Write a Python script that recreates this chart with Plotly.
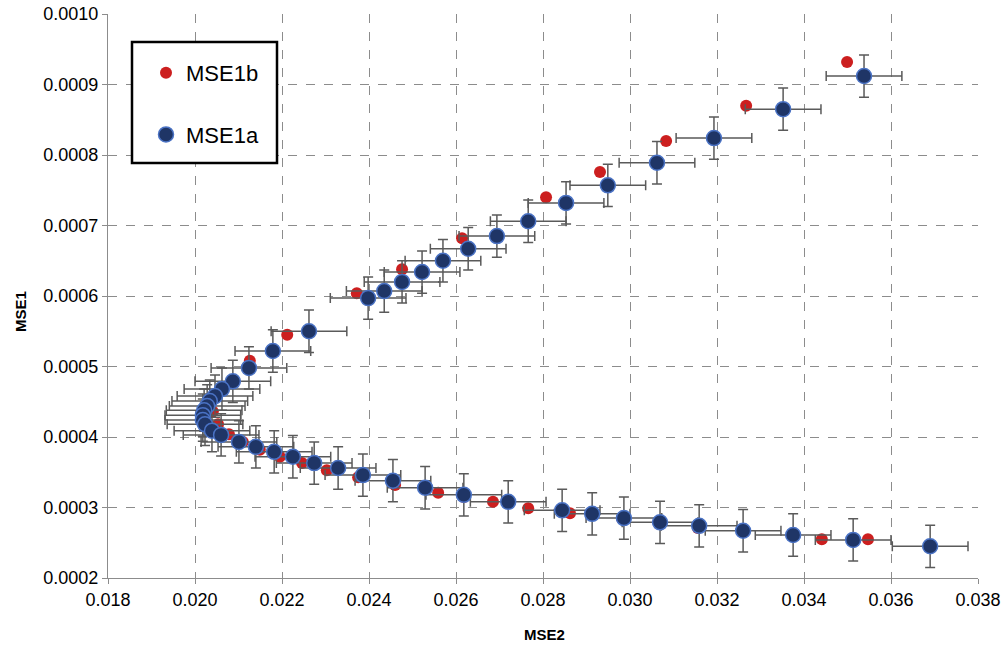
import plotly.graph_objects as go

# ---- data ----
mse1a_x = [0.03538, 0.03352, 0.03193, 0.03062, 0.02949, 0.02853, 0.02766, 0.02694,
           0.02628, 0.02570, 0.02522, 0.02476, 0.02435, 0.02398, 0.02262, 0.02179,
           0.02124, 0.02087, 0.02062, 0.02046, 0.02034, 0.02028, 0.02021, 0.02018,
           0.02018, 0.02023, 0.02039, 0.02060, 0.02101, 0.02140, 0.02182, 0.02225,
           0.02274, 0.02329, 0.02386, 0.02455, 0.02529, 0.02618, 0.02720, 0.02844,
           0.02913, 0.02986, 0.03069, 0.03159, 0.03260, 0.03375, 0.03513, 0.03690]
mse1a_y = [0.000912, 0.000865, 0.000824, 0.000789, 0.000757, 0.000732, 0.000706, 0.000685,
           0.000667, 0.000650, 0.000634, 0.000620, 0.000607, 0.000597, 0.000550, 0.000522,
           0.000498, 0.000479, 0.000468, 0.000458, 0.000451, 0.000444, 0.000438, 0.000431,
           0.000424, 0.000418, 0.000409, 0.000403, 0.000393, 0.000386, 0.000379, 0.000372,
           0.000363, 0.000356, 0.000346, 0.000338, 0.000328, 0.000318, 0.000308, 0.000296,
           0.000291, 0.000285, 0.000279, 0.000274, 0.000267, 0.000261, 0.000254, 0.000245]
mse1a_xerr = 0.00087
mse1a_yerr = 0.00003

mse1b_x = [0.03499, 0.03267, 0.03083, 0.02931, 0.02807, 0.02614, 0.02476, 0.02372,
           0.02212, 0.02126, 0.02041, 0.02053, 0.02078, 0.02110, 0.02149, 0.02195,
           0.02246, 0.02303, 0.02375, 0.02460, 0.02559, 0.02618, 0.02685, 0.02766,
           0.02862, 0.02982, 0.03156, 0.03441, 0.03547]
mse1b_y = [0.000932, 0.000870, 0.000820, 0.000776, 0.000740, 0.000682, 0.000638, 0.000604,
           0.000545, 0.000508, 0.000436, 0.000418, 0.000404, 0.000393, 0.000382, 0.000372,
           0.000363, 0.000353, 0.000343, 0.000332, 0.000321, 0.000315, 0.000308, 0.000299,
           0.000292, 0.000284, 0.000271, 0.000255, 0.000255]

x_range = [0.018, 0.038]
y_range = [0.0002, 0.0010]

FONT = "Liberation Sans"
GRID = "#8c8c8c"

W, H = 1003, 646
ML, MR, MT, MB = 108, 25, 14, 68
PW, PH = W - ML - MR, H - MT - MB


def px_x(p):
    return (p - ML) / PW


def px_y(p):
    return (H - MB - p) / PH


fig = go.Figure()
fig.add_trace(go.Scatter(
    x=mse1b_x, y=mse1b_y, mode="markers", name="MSE1b", legendgroup="b",
    marker=dict(size=12, color="#CC1F1F", line=dict(width=0)),
))
fig.add_trace(go.Scatter(
    x=mse1a_x, y=mse1a_y, mode="markers", name="MSE1a", legendgroup="a",
    marker=dict(size=15, color="#1F3566", line=dict(color="#4A72C4", width=1.5)),
    error_x=dict(type="constant", value=mse1a_xerr, color="#5a5a5a", thickness=1.5, width=5),
    error_y=dict(type="constant", value=mse1a_yerr, color="#5a5a5a", thickness=1.5, width=5),
))

axis_common = dict(
    showgrid=True, gridcolor=GRID, griddash="dash", gridwidth=1,
    showline=True, linecolor=GRID, linewidth=1,
    ticks="outside", ticklen=5, tickcolor=GRID,
    zeroline=False, automargin=False,
    tickfont=dict(family=FONT, size=18, color="#000000"),
)

fig.update_layout(
    width=W, height=H, autosize=False,
    margin=dict(l=ML, r=MR, t=MT, b=MB, pad=0, autoexpand=False),
    plot_bgcolor="white", paper_bgcolor="white",
    xaxis=dict(range=x_range, tick0=0.018, dtick=0.002, tickformat=".3f", **axis_common),
    yaxis=dict(range=y_range, tick0=0.0002, dtick=0.0001, tickformat=".4f", **axis_common),
    showlegend=True,
    legend=dict(
        x=px_x(146), y=px_y(52), xanchor="left", yanchor="top",
        bgcolor="rgba(0,0,0,0)", borderwidth=0,
        font=dict(family=FONT, size=22, color="#000000"),
        tracegroupgap=30, traceorder="grouped",
    ),
    shapes=[dict(
        type="rect", xref="paper", yref="paper",
        x0=px_x(132), x1=px_x(277), y0=px_y(163), y1=px_y(42),
        line=dict(color="black", width=2.5), fillcolor="white", layer="above",
    )],
    annotations=[
        dict(text="<b>MSE1</b>", xref="paper", yref="paper", x=px_x(20), y=px_y(312),
             xanchor="center", yanchor="middle", textangle=-90, showarrow=False,
             font=dict(family=FONT, size=15, color="#000000")),
        dict(text="<b>MSE2</b>", xref="paper", yref="paper", x=px_x(544), y=px_y(634),
             xanchor="center", yanchor="middle", showarrow=False,
             font=dict(family=FONT, size=15, color="#000000")),
    ],
)

fig.write_html("out.html")
